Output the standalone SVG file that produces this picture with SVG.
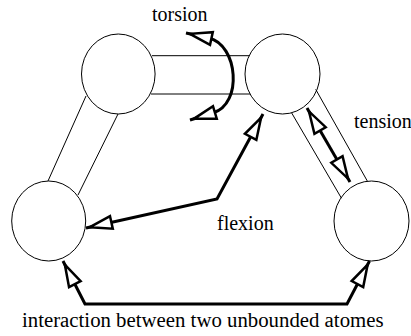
<svg xmlns="http://www.w3.org/2000/svg" width="411" height="336" viewBox="0 0 411 336">
<style>
.atom{fill:#fff;stroke:#000;stroke-width:1}
.bond{stroke:#000;stroke-width:1;fill:none}
.arrow{stroke:#000;stroke-width:3;fill:none;stroke-linejoin:miter;marker-start:url(#ah);marker-end:url(#ah)}
.head{fill:#fff;stroke:#000;stroke-width:2.5;stroke-linejoin:miter}
.lbl{font-family:"Liberation Serif","Times New Roman",serif;font-size:20px;fill:#000}
</style>
<defs>
<marker id="ah" markerUnits="userSpaceOnUse" orient="auto-start-reverse" overflow="visible" refX="0" refY="0" markerWidth="1" markerHeight="1">
<path class="head" d="M-4,0 L-26,-6.5 L-26,6.5 Z"/>
</marker>
</defs>
<rect width="411" height="336" fill="#fff"/>
<g id="atom-top-left"><ellipse class="atom" cx="118.3" cy="74" rx="36.8" ry="40"/></g>
<g id="atom-top-right"><ellipse class="atom" cx="282.5" cy="74" rx="37.5" ry="40"/></g>
<g id="atom-bottom-left"><ellipse class="atom" cx="48.7" cy="221" rx="37" ry="40"/></g>
<g id="atom-bottom-right"><ellipse class="atom" cx="371.5" cy="221" rx="37.5" ry="40"/></g>
<g id="connectors">
<line class="bond" x1="152" y1="55.7" x2="249" y2="55.7"/>
<line class="bond" x1="151" y1="94" x2="250" y2="94"/>
<line class="bond" x1="86" y1="96" x2="48" y2="181"/>
<line class="bond" x1="118" y1="114" x2="78" y2="195"/>
<line class="bond" x1="291.7" y1="113" x2="341.5" y2="198.3"/>
<line class="bond" x1="315.7" y1="89.3" x2="367.3" y2="181"/>
<path class="arrow" d="M186,33 L209,38 C238,45 243,104 213,113 L190,120"/>
<path class="arrow" d="M307,108 L350,182"/>
<path class="arrow" d="M86,228 L217,199 L263,114"/>
<path class="arrow" d="M63,261 L85,304 L347,304 L369.5,261"/>
</g>
<g id="labels">
<text class="lbl" x="152" y="21">torsion</text>
<text class="lbl" x="354" y="128">tension</text>
<text class="lbl" x="217" y="230">flexion</text>
<text class="lbl" x="22" y="327" style="font-size:20.8px">interaction between two unbounded atomes</text>
</g>
</svg>
